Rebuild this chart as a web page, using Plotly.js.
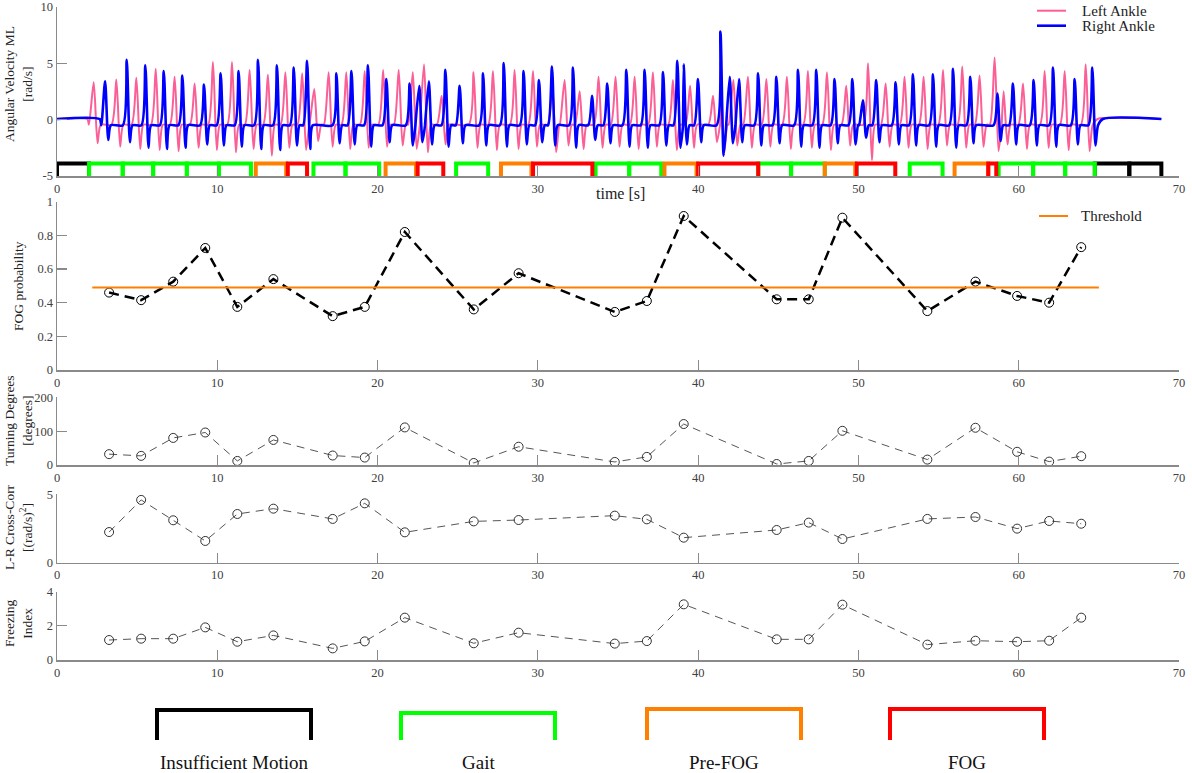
<!DOCTYPE html>
<html>
<head>
<meta charset="utf-8">
<script src="https://cdn.plot.ly/plotly-3.0.1.min.js"></script>
<style>
  html, body { margin: 0; padding: 0; background: #fff; }
  #chart { width: 1192px; height: 773px; }
</style>
</head>
<body>
<div id="chart"></div>
<script>
// Top panel: ankle angular velocity ML, one value per stride (peak time [s], peak, trough [rad/s])
const leftPeakT = [2.29, 3.70, 4.95, 6.16, 7.34, 8.59, 9.73, 10.92, 12.02, 13.16, 14.25, 15.3, 16.05, 16.95, 18.05, 19.2, 20.35, 21.32, 22.2, 22.9, 24.0, 25.99, 27.2, 28.55, 29.7, 30.9, 31.67, 32.61, 33.79, 34.85, 36.04, 37.18, 38.43, 39.5, 40.93, 41.39, 42.2, 43.11, 44.26, 45.54, 46.85, 48.04, 49.24, 50.6, 51.7, 52.88, 54.07, 55.28, 56.48, 57.56, 58.5, 59.06, 60.27, 61.62, 62.87, 64.18];
const leftPeakV = [3.3, 3.55, 3.7, 4.5, 3.8, 3.2, 5.1, 5.1, 4.4, 4.0, 4.2, 4.1, 2.7, 4.2, 4.2, 4.3, 4.4, 4.4, 4.2, 4.9, 2.1, 4.2, 4.3, 4.4, 4.3, 3.0, 3.5, 2.5, 3.8, 3.8, 3.8, 4.2, 3.5, 3.0, 2.1, 5.1, 3.5, 3.8, 3.6, 3.8, 4.3, 4.2, 3.0, 5.0, 3.2, 3.8, 3.8, 4.4, 4.7, 3.9, 5.5, 2.5, 3.2, 4.3, 4.3, 4.9];
const leftTroughV = [-2.1, -2.4, -2.6, -2.7, -2.8, -2.5, -2.7, -2.9, -2.6, -3.2, -2.5, -2.7, -1.9, -2.4, -2.6, -2.5, -2.4, -2.3, -2.6, -2.9, -2.2, -2.5, -2.7, -2.6, -2.4, -2.9, -2.3, -2.6, -2.5, -2.4, -2.6, -2.4, -2.7, -2.5, -2.0, -2.9, -2.3, -2.5, -2.4, -2.6, -2.5, -2.7, -2.3, -3.6, -2.4, -2.5, -2.6, -2.3, -2.5, -2.4, -2.8, -2.2, -2.6, -2.5, -2.7, -2.8];
const rightPeakT = [3.0, 4.35, 5.51, 6.66, 7.82, 9.17, 10.21, 11.33, 12.54, 13.72, 14.77, 15.6, 17.43, 18.37, 19.4, 20.55, 22.0, 22.6, 23.2, 24.23, 25.12, 26.58, 27.87, 29.11, 30.07, 30.88, 32.19, 33.38, 34.33, 35.52, 36.66, 37.81, 38.7, 39.1, 39.99, 41.39, 41.97, 42.55, 43.74, 44.88, 46.23, 47.37, 48.51, 49.62, 50.28, 51.11, 52.32, 53.4, 54.65, 55.9, 56.98, 58.67, 59.64, 60.93, 62.14, 63.49, 64.59];
const rightPeakV = [3.4, 5.3, 4.8, 4.3, 3.9, 3.1, 4.1, 4.3, 5.3, 4.8, 4.6, 5.2, 4.1, 4.3, 4.8, 3.6, 3.2, 3.0, 3.4, 4.4, 3.0, 4.1, 5.0, 4.3, 3.5, 4.7, 4.6, 2.1, 3.2, 4.4, 4.4, 4.2, 5.2, 4.9, 3.6, 7.8, 3.8, 3.6, 4.1, 3.8, 4.4, 4.4, 3.6, 3.6, 1.7, 3.5, 3.3, 4.0, 4.0, 4.5, 3.8, 2.3, 3.2, 3.5, 4.6, 3.6, 4.6];
const rightTroughV = [-1.8, -2.0, -2.5, -2.6, -2.5, -2.2, -2.3, -2.4, -2.6, -2.7, -2.3, -2.6, -2.1, -2.2, -2.4, -2.0, -2.3, -2.0, -2.2, -2.4, -2.1, -2.3, -2.4, -2.2, -2.0, -2.3, -2.5, -1.8, -2.1, -2.4, -2.5, -2.3, -2.5, -2.2, -2.0, -3.2, -2.1, -2.0, -2.3, -2.1, -2.4, -2.5, -2.1, -2.2, -1.6, -2.0, -2.2, -2.3, -2.4, -2.5, -2.1, -1.9, -2.2, -2.3, -2.4, -2.2, -2.3];

// classified 2 s windows (0 = Insufficient Motion, 1 = Gait, 2 = Pre-FOG, 3 = FOG)
const winStart = [0, 2, 4.1, 6, 8.1, 10.1, 12.4, 14.4, 16, 18, 20.5, 22.5, 24.9, 27.7, 29.7, 33.6, 35.7, 37.9, 40, 43.75, 45.8, 47.9, 49.9, 53.2, 56, 58.1, 58.75, 60.9, 62.9, 64.75, 66.9];
const winEnd = [2, 4.1, 6, 8.1, 10.1, 12.1, 14.3, 15.6, 18, 20.1, 22.4, 24.1, 26.9, 29.6, 33.4, 35.7, 37.7, 39.9, 43.75, 45.8, 47.9, 49.8, 52.3, 55.25, 58.1, 58.6, 60.9, 62.9, 64.75, 66.9, 68.9];
const winClass = [0, 1, 1, 1, 1, 1, 2, 3, 1, 1, 2, 3, 1, 2, 3, 1, 1, 2, 3, 1, 1, 2, 3, 1, 2, 3, 1, 1, 1, 0, 0];
const classNames = ['Insufficient Motion', 'Gait', 'Pre-FOG', 'FOG'];
const classColors = ['#000000', '#00ff00', '#ff8000', '#ff0000'];

// per-window features
const featT = [3.25, 5.25, 7.25, 9.25, 11.25, 13.5, 17.2, 19.2, 21.7, 26.0, 28.8, 34.8, 36.8, 39.1, 44.9, 46.9, 49.0, 54.3, 57.3, 59.9, 61.9, 63.9];
const fogProb = [0.46, 0.415, 0.525, 0.725, 0.375, 0.54, 0.32, 0.375, 0.82, 0.36, 0.575, 0.345, 0.41, 0.915, 0.42, 0.42, 0.905, 0.35, 0.525, 0.44, 0.40, 0.73];
const turnDeg = [32, 27, 80, 96, 12, 74, 28, 22, 111, 6, 54, 9, 24, 121, 3, 12, 101, 16, 110, 39, 10, 26];
const crossCorr = [2.24, 4.59, 3.1, 1.59, 3.56, 3.95, 3.2, 4.34, 2.22, 3.02, 3.12, 3.44, 3.17, 1.83, 2.39, 2.93, 1.73, 3.2, 3.34, 2.49, 3.05, 2.85];
const freezeIdx = [1.17, 1.25, 1.25, 1.91, 1.07, 1.44, 0.68, 1.09, 2.48, 0.98, 1.6, 0.96, 1.11, 3.26, 1.21, 1.21, 3.24, 0.9, 1.13, 1.07, 1.13, 2.48];
const threshold = 0.49;
const thresholdSpan = [2.2, 65];

const xTicks = [0, 10, 20, 30, 40, 50, 60, 70];
const serif = 'Liberation Serif, Times New Roman, serif';
const W = 1192, H = 773, ML = 57, MR = 13;

// stride peaks -> polyline (rest, peak, trough, rest)
function strideLine(peakT, peakV, troughV, rise, fall, settle, rest) {
    const x = [0, peakT[0] - rise - 0.1];
    const y = [0.05, 0.05];
    let last = x[1];
    peakT.forEach(function(t, i) {
        const t0 = Math.max(last, t - rise);
        x.push(t0, t, t + fall, t + settle);
        y.push(rest, peakV[i], troughV[i], rest);
        last = t + settle;
    });
    x.push(last + 0.3, 68.9);
    y.push(0.05, 0.05);
    return {x: x, y: y};
}

const left = strideLine(leftPeakT, leftPeakV, leftTroughV, 0.3, 0.24, 0.44, -0.45);
const right = strideLine(rightPeakT, rightPeakV, rightTroughV, 0.24, 0.2, 0.36, -0.5);

const traces = [];
traces.push({x: left.x, y: left.y, type: 'scatter', mode: 'lines', showlegend: false,
    line: {color: '#fb5f96', width: 2, shape: 'spline', smoothing: 0.7}, xaxis: 'x', yaxis: 'y'});
traces.push({x: right.x, y: right.y, type: 'scatter', mode: 'lines', showlegend: false,
    line: {color: '#0000ff', width: 2.6, shape: 'spline', smoothing: 0.7}, xaxis: 'x', yaxis: 'y'});

// window brackets, one trace per class
const bracketTop = -3.9, bracketBottom = -5;
classNames.forEach(function(name, c) {
    const bx = [], by = [];
    winStart.forEach(function(s, i) {
        if (winClass[i] !== c) return;
        bx.push(s, s, winEnd[i], winEnd[i], null);
        by.push(bracketBottom, bracketTop, bracketTop, bracketBottom, null);
    });
    traces.push({x: bx, y: by, type: 'scatter', mode: 'lines', showlegend: false,
        line: {color: classColors[c], width: 4}, xaxis: 'x', yaxis: 'y', hoverinfo: 'skip'});
});

traces.push({x: featT, y: fogProb, type: 'scatter', mode: 'lines+markers', showlegend: false,
    line: {color: '#000', width: 2.5, dash: '10px,6px'},
    marker: {symbol: 'circle-open', size: 9, color: '#000', line: {width: 1}},
    xaxis: 'x2', yaxis: 'y2'});
traces.push({x: thresholdSpan, y: [threshold, threshold], type: 'scatter', mode: 'lines', showlegend: false,
    line: {color: '#ff8000', width: 2}, xaxis: 'x2', yaxis: 'y2'});

[[turnDeg, 'x3', 'y3'], [crossCorr, 'x4', 'y4'], [freezeIdx, 'x5', 'y5']].forEach(function(p) {
    traces.push({x: featT, y: p[0], type: 'scatter', mode: 'lines+markers', showlegend: false,
        line: {color: '#555', width: 1, dash: '8px,6px'},
        marker: {symbol: 'circle-open', size: 9, color: '#333', line: {width: 1}},
        xaxis: p[1], yaxis: p[2]});
});

function axisStyle(extra) {
    return Object.assign({
        showline: true, linecolor: '#8a8a8a', linewidth: 1.5,
        ticks: 'inside', ticklen: 10, tickwidth: 1.2, tickcolor: '#8a8a8a',
        showgrid: false, zeroline: false, fixedrange: true,
        tickfont: {family: serif, size: 12.5, color: '#404040'}
    }, extra);
}

// panel pixel extents (top of range, bottom of range)
function dom(topPx, bottomPx) { return [1 - bottomPx / H, 1 - topPx / H]; }

const layout = {
    width: W, height: H,
    margin: {l: ML, r: MR, t: 0, b: 0},
    paper_bgcolor: '#fff', plot_bgcolor: 'rgba(0,0,0,0)',
    font: {family: serif, color: '#222'},
    showlegend: false,
    xaxis: axisStyle({anchor: 'y', range: [0, 70], tickvals: xTicks}),
    yaxis: axisStyle({anchor: 'x', domain: dom(6.7, 176), range: [-5, 10],
        tickvals: [-5, 0, 5, 10], ticktext: ['-5', '0', '5', '10']}),
    xaxis2: axisStyle({anchor: 'y2', range: [0, 70], tickvals: xTicks}),
    yaxis2: axisStyle({anchor: 'x2', domain: dom(201.7, 370), range: [0, 1],
        tickvals: [0, 0.2, 0.4, 0.6, 0.8, 1], ticktext: ['0', '0.2', '0.4', '0.6', '0.8', '1']}),
    xaxis3: axisStyle({anchor: 'y3', range: [0, 70], tickvals: xTicks}),
    yaxis3: axisStyle({anchor: 'x3', domain: dom(397.3, 465), range: [0, 200], tickvals: [0, 100, 200]}),
    xaxis4: axisStyle({anchor: 'y4', range: [0, 70], tickvals: xTicks}),
    yaxis4: axisStyle({anchor: 'x4', domain: dom(494.3, 562.7), range: [0, 5], tickvals: [0, 5]}),
    xaxis5: axisStyle({anchor: 'y5', range: [0, 70], tickvals: xTicks}),
    yaxis5: axisStyle({anchor: 'x5', domain: dom(591.7, 660), range: [0, 4], tickvals: [0, 2, 4]}),
    annotations: [],
    shapes: []
};

function px2x(px) { return (px - ML) / (W - ML - MR); }
function px2y(py) { return 1 - py / H; }

// y titles
const yTitles = [
    ['Angular Velocity ML<br>[rad/s]', 18, 84],
    ['FOG probability', 18, 286],
    ['Turning Degrees<br>[degrees]', 18, 421],
    ['L-R Cross-Corr<br>[(rad/s)<sup>2</sup>]', 18, 527],
    ['Freezing<br>Index', 18, 624]
];
yTitles.forEach(function(t) {
    layout.annotations.push({text: t[0], xref: 'paper', yref: 'paper', x: px2x(t[1]), y: px2y(t[2]),
        xanchor: 'center', yanchor: 'middle', textangle: -90, showarrow: false,
        font: {family: serif, size: 13.5, color: '#222'}});
});
layout.annotations.push({text: 'time [s]', xref: 'paper', yref: 'paper', x: px2x(620), y: px2y(193),
    xanchor: 'center', yanchor: 'middle', showarrow: false, font: {family: serif, size: 16, color: '#222'}});

// legend entries: [label, colour, width, line x0 px, line x1 px, y px, text x px]
const legendItems = [
    ['Left Ankle', '#fb5f96', 2, 1037, 1066, 10.7, 1080],
    ['Right Ankle', '#0000ff', 2.6, 1037, 1066, 25.7, 1080],
    ['Threshold', '#ff8000', 2, 1039, 1068, 216, 1079]
];
legendItems.forEach(function(it) {
    layout.shapes.push({type: 'line', xref: 'paper', yref: 'paper',
        x0: px2x(it[3]), x1: px2x(it[4]), y0: px2y(it[5]), y1: px2y(it[5]),
        line: {color: it[1], width: it[2]}});
    layout.annotations.push({text: it[0], xref: 'paper', yref: 'paper', x: px2x(it[6]), y: px2y(it[5]),
        xanchor: 'left', yanchor: 'middle', showarrow: false, font: {family: serif, size: 15, color: '#222'}});
});

// class key below the panels
const keyLeft = [157, 401, 647, 890], keyWidth = 154, keyTop = [710, 713, 709, 709], keyBottom = 740;
classNames.forEach(function(name, c) {
    const x0 = px2x(keyLeft[c]), x1 = px2x(keyLeft[c] + keyWidth);
    const y0 = px2y(keyBottom), y1 = px2y(keyTop[c]);
    layout.shapes.push({type: 'path', xref: 'paper', yref: 'paper',
        path: 'M' + x0 + ',' + y0 + ' L' + x0 + ',' + y1 + ' L' + x1 + ',' + y1 + ' L' + x1 + ',' + y0,
        line: {color: classColors[c], width: 4}});
    layout.annotations.push({text: name, xref: 'paper', yref: 'paper', x: px2x(keyLeft[c] + keyWidth / 2),
        y: px2y(762), xanchor: 'center', yanchor: 'middle', showarrow: false,
        font: {family: serif, size: 19, color: '#111'}});
});

Plotly.newPlot('chart', traces, layout, {staticPlot: true});
</script>
</body>
</html>
